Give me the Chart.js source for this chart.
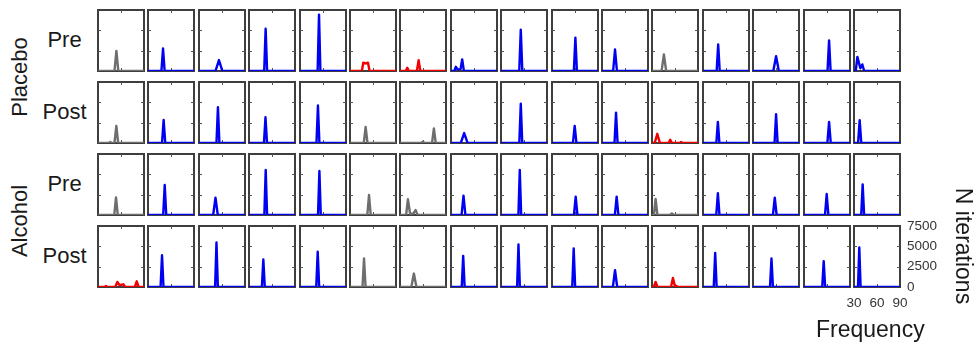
<!DOCTYPE html>
<html><head><meta charset="utf-8">
<script src="https://cdn.jsdelivr.net/npm/chart.js@4.4.1/dist/chart.umd.min.js"></script>
<style>
html,body{margin:0;padding:0;background:#fff;}
#wrap{position:relative;width:977px;height:347px;overflow:hidden;font-family:"Liberation Sans",Arial,sans-serif;color:#1a1a1a;}
#wrap canvas{position:absolute;}
.lbl{position:absolute;white-space:nowrap;line-height:1;}
</style></head><body><div id="wrap"></div>
<script>
// ---- labels ----
const groupLabels = ["Placebo", "Alcohol"];
const phaseLabels = ["Pre", "Post", "Pre", "Post"];
const freqTicks = [30, 60, 90];
const countTicks = [0, 2500, 5000, 7500];
const xTitle = "Frequency";
const yTitle = "N iterations";

// ---- data: each panel is a list of [frequency, iterations] ----
const placeboPre = [
  [[30,0],[51.5,0],[54,2470],[56.5,0],[90,0]],
  [[30,0],[47.5,0],[49.6,2760],[51.7,0],[90,0]],
  [[30,0],[51.5,0],[56,1340],[60.5,0],[90,0]],
  [[30,0],[49.8,0],[51.7,5190],[53.6,0],[90,0]],
  [[30,0],[53,0],[54.8,6930],[56.6,0],[90,0]],
  [[30,0],[45.5,0],[47.3,1020],[50.5,930],[53.5,1020],[55.5,0],[90,0]],
  [[30,0],[37.5,0],[39.5,400],[41.5,0],[52,0],[54.3,1340],[56.5,0],[90,0]],
  [[30,0],[34.3,0],[36.4,520],[38.5,200],[42.4,200],[44.6,1420],[46.8,0],[90,0]],
  [[30,0],[53.8,0],[55.8,5070],[57.8,0],[90,0]],
  [[30,0],[58.5,0],[60.5,4100],[62.5,0],[90,0]],
  [[30,0],[44.5,0],[47,2640],[49.5,0],[90,0]],
  [[30,0],[42.5,0],[45.5,2030],[48.5,0],[90,0]],
  [[30,0],[47.8,0],[49.8,3250],[51.8,0],[90,0]],
  [[30,0],[56.5,0],[60.1,1820],[63.7,0],[90,0]],
  [[30,0],[60.7,0],[62.7,3770],[64.7,0],[90,0]],
  [[30,0],[32.3,0],[34.4,1740],[38.3,330],[40.8,810],[43.3,0],[90,0]]
];
const placeboPost = [
  [[30,0],[44,0],[46,120],[48,0],[51.5,0],[53.9,2100],[56.3,0],[90,0]],
  [[30,0],[48.3,0],[50.4,2830],[52.5,0],[90,0]],
  [[30,0],[52.8,0],[54.7,4410],[56.6,0],[90,0]],
  [[30,0],[49.5,0],[51.5,3160],[53.5,0],[90,0]],
  [[30,0],[51.5,0],[53.4,4620],[55.3,0],[90,0]],
  [[30,0],[48,0],[50.4,1980],[52.8,0],[90,0]],
  [[30,0],[57.5,0],[59.8,150],[62,0],[71.8,0],[74.2,1790],[76.6,0],[90,0]],
  [[30,0],[42.8,0],[47.2,1220],[51.6,0],[90,0]],
  [[30,0],[53.9,0],[55.8,4820],[57.7,0],[90,0]],
  [[30,0],[57.3,0],[59.6,2100],[61.9,0],[90,0]],
  [[30,0],[46.3,0],[48.3,3730],[50.3,0],[90,0]],
  [[30,0],[33.5,0],[36.9,1130],[40.3,0],[51.5,0],[53.8,400],[56,0],[66.5,0],[68,120],[69.5,0],[90,0]],
  [[30,0],[47.4,0],[49.4,2590],[51.4,0],[90,0]],
  [[30,0],[58.1,0],[60.1,3530],[62.1,0],[90,0]],
  [[30,0],[60.5,0],[62.7,2590],[64.9,0],[90,0]],
  [[30,0],[35.3,0],[37.4,2800],[39.5,0],[90,0]]
];
const alcoholPre = [
  [[30,0],[51.2,0],[53.5,2170],[55.8,0],[90,0]],
  [[30,0],[49.8,0],[51.8,3690],[53.8,0],[90,0]],
  [[30,0],[48.5,0],[51.5,2130],[54.5,0],[90,0]],
  [[30,0],[50,0],[51.8,5530],[53.6,0],[90,0]],
  [[30,0],[53.5,0],[55.3,5410],[57.1,0],[90,0]],
  [[30,0],[52.6,0],[54.8,2460],[57,0],[90,0]],
  [[30,0],[38,0],[40.3,1930],[43.2,120],[47.5,200],[50.3,610],[53,0],[90,0]],
  [[30,0],[43.8,0],[46.3,2370],[48.8,0],[90,0]],
  [[30,0],[52.7,0],[54.5,5530],[56.3,0],[90,0]],
  [[30,0],[58.6,0],[60.9,2250],[63.2,0],[90,0]],
  [[30,0],[46.8,0],[49.1,2250],[51.4,0],[90,0]],
  [[30,0],[32.5,0],[34.7,1970],[37,0],[53,0],[56,180],[59,0],[90,0]],
  [[30,0],[47.3,0],[49.4,2670],[51.5,0],[90,0]],
  [[30,0],[56,0],[58.4,2130],[60.8,0],[90,0]],
  [[30,0],[57.4,0],[59.6,2580],[61.8,0],[90,0]],
  [[30,0],[39.4,0],[41.3,3770],[43.2,0],[90,0]]
];
const alcoholPost = [
  [[30,0],[38.5,0],[40.4,120],[42.5,0],[52.5,0],[55.2,620],[58,250],[60.5,280],[63,330],[65.5,0],[78,0],[80.5,700],[83,0],[90,0]],
  [[30,0],[46.4,0],[48.3,3910],[50.2,0],[90,0]],
  [[30,0],[51,0],[52.8,5480],[54.6,0],[90,0]],
  [[30,0],[46.8,0],[48.7,3380],[50.6,0],[90,0]],
  [[30,0],[51.2,0],[53.1,4330],[55,0],[90,0]],
  [[30,0],[46.3,0],[48.3,3500],[50.3,0],[90,0]],
  [[30,0],[44.8,0],[48.1,1650],[51.4,0],[90,0]],
  [[30,0],[44,0],[45.9,3830],[47.8,0],[90,0]],
  [[30,0],[51,0],[52.8,5230],[54.6,0],[90,0]],
  [[30,0],[56.4,0],[58.3,4740],[60.2,0],[90,0]],
  [[30,0],[44.2,0],[47,2060],[49.8,0],[90,0]],
  [[30,0],[32.3,0],[34.7,620],[37.2,0],[54.8,0],[57.3,1110],[59.8,120],[62,120],[64,0],[90,0]],
  [[30,0],[44,0],[45.9,4200],[47.8,0],[90,0]],
  [[30,0],[52.2,0],[54.1,3500],[56,0],[90,0]],
  [[30,0],[53.8,0],[55.7,3180],[57.6,0],[90,0]],
  [[30,0],[35.2,0],[36.9,4860],[38.6,0],[90,0]]
];
// panel class: G = gray, B = blue, R = red
const placeboPreClass  = ["G","B","B","B","B","R","R","B","B","B","B","G","B","B","B","B"];
const placeboPostClass = ["G","B","B","B","B","G","G","B","B","B","B","R","B","B","B","B"];
const alcoholPreClass  = ["G","B","B","B","B","G","G","B","B","B","B","G","B","B","B","B"];
const alcoholPostClass = ["R","B","B","B","B","G","G","B","B","B","B","R","B","B","B","B"];

// ---- styling / layout ----
const rows = [placeboPre, placeboPost, alcoholPre, alcoholPost];
const rowClasses = [placeboPreClass, placeboPostClass, alcoholPreClass, alcoholPostClass];
const COLORS = {G: "#6e6e6e", B: "#0000f2", R: "#f20000"};
const W = 46, H = 61, PAD = 2;
const colLeft = c => Math.round(98 + 50.4 * c);
const rowTop = r => Math.round(9.6 + 72.2 * r);
const wrap = document.getElementById("wrap");

const framePlugin = {
  id: "frame",
  beforeDatasetsDraw(chart) {
    const {ctx, chartArea: a, scales} = chart;
    ctx.save();
    ctx.strokeStyle = "#3e3e3e";
    ctx.lineWidth = 2;
    ctx.strokeRect(a.left, a.top, a.right - a.left, a.bottom - a.top);
    ctx.lineWidth = 1;
    ctx.strokeStyle = "#555";
    ctx.beginPath();
    const xm = Math.round(scales.x.getPixelForValue(freqTicks[1])) + 0.5;
    ctx.moveTo(xm, a.top); ctx.lineTo(xm, a.top + 3);
    ctx.moveTo(xm, a.bottom); ctx.lineTo(xm, a.bottom - 3);
    for (const v of countTicks.slice(1, 3)) {
      const y = Math.round(scales.y.getPixelForValue(v)) + 0.5;
      ctx.moveTo(a.left, y); ctx.lineTo(a.left + 3, y);
      ctx.moveTo(a.right, y); ctx.lineTo(a.right - 3, y);
    }
    ctx.stroke();
    ctx.restore();
  }
};

function makePanel(r, c) {
  const last = (r === 3 && c === 15);
  const pad = last ? {left: 14, top: 10, right: 0, bottom: 0} : {left: PAD, top: PAD, right: PAD, bottom: PAD};
  const axW = last ? 40 : 0, axH = last ? 26 : 0;
  const cw = pad.left + W + pad.right + axW;
  const chh = pad.top + H + pad.bottom + axH;
  const cv = document.createElement("canvas");
  cv.width = cw; cv.height = chh;
  cv.style.width = cw + "px"; cv.style.height = chh + "px";
  cv.style.left = (colLeft(c) - pad.left) + "px";
  cv.style.top = (rowTop(r) - pad.top) + "px";
  wrap.appendChild(cv);
  const tickFont = {family: "'Liberation Sans', Arial, sans-serif", size: 13.5};
  new Chart(cv, {
    type: "line",
    data: {datasets: [{
      data: rows[r][c],
      borderColor: COLORS[rowClasses[r][c]],
      borderWidth: 2.4,
      pointRadius: 0,
      fill: false,
      tension: 0,
      borderJoinStyle: "round",
      borderCapStyle: "round"
    }]},
    options: {
      responsive: false, animation: false, devicePixelRatio: 1,
      layout: {padding: pad},
      events: [],
      plugins: {legend: {display: false}, tooltip: {enabled: false}},
      scales: {
        x: {type: "linear", min: freqTicks[0], max: freqTicks[2], display: last,
            grid: {display: false, drawTicks: false}, border: {display: false},
            afterBuildTicks: s => { s.ticks = freqTicks.map(v => ({value: v})); },
            ticks: {padding: 8, maxRotation: 0, minRotation: 0, autoSkip: false, color: "#333", font: tickFont,
                    callback: v => String(v)},
            afterFit: s => { if (last) { s.height = axH; s.paddingLeft = 0; s.paddingRight = 0; } }},
        y: {type: "linear", min: countTicks[0], max: countTicks[3], display: last, position: "right",
            grid: {display: false, drawTicks: false}, border: {display: false},
            afterBuildTicks: s => { s.ticks = countTicks.map(v => ({value: v})); },
            ticks: {padding: 7, autoSkip: false, color: "#333", font: tickFont,
                    callback: v => String(v)},
            afterFit: s => { if (last) { s.width = axW; s.paddingTop = 0; s.paddingBottom = 0; } }}
      }
    },
    plugins: [framePlugin]
  });
}
for (let r = 0; r < 4; r++) for (let c = 0; c < 16; c++) makePanel(r, c);

function addLabel(text, cx, cy, size, rot) {
  const d = document.createElement("div");
  d.className = "lbl";
  d.textContent = text;
  d.style.fontSize = size + "px";
  d.style.left = cx + "px"; d.style.top = cy + "px";
  d.style.transform = "translate(-50%,-50%)" + (rot ? " rotate(" + rot + "deg)" : "");
  wrap.appendChild(d);
}
phaseLabels.forEach((t, r) => addLabel(t, 64.5, rowTop(r) + H / 2 - 1, 22, 0));
addLabel(groupLabels[0], 20, 76.7, 22, -90);
addLabel(groupLabels[1], 20, 221, 22, -90);
addLabel(xTitle, 870.3, 328.7, 23, 0);
addLabel(yTitle, 963, 245.8, 23, 90);
</script></body></html>
